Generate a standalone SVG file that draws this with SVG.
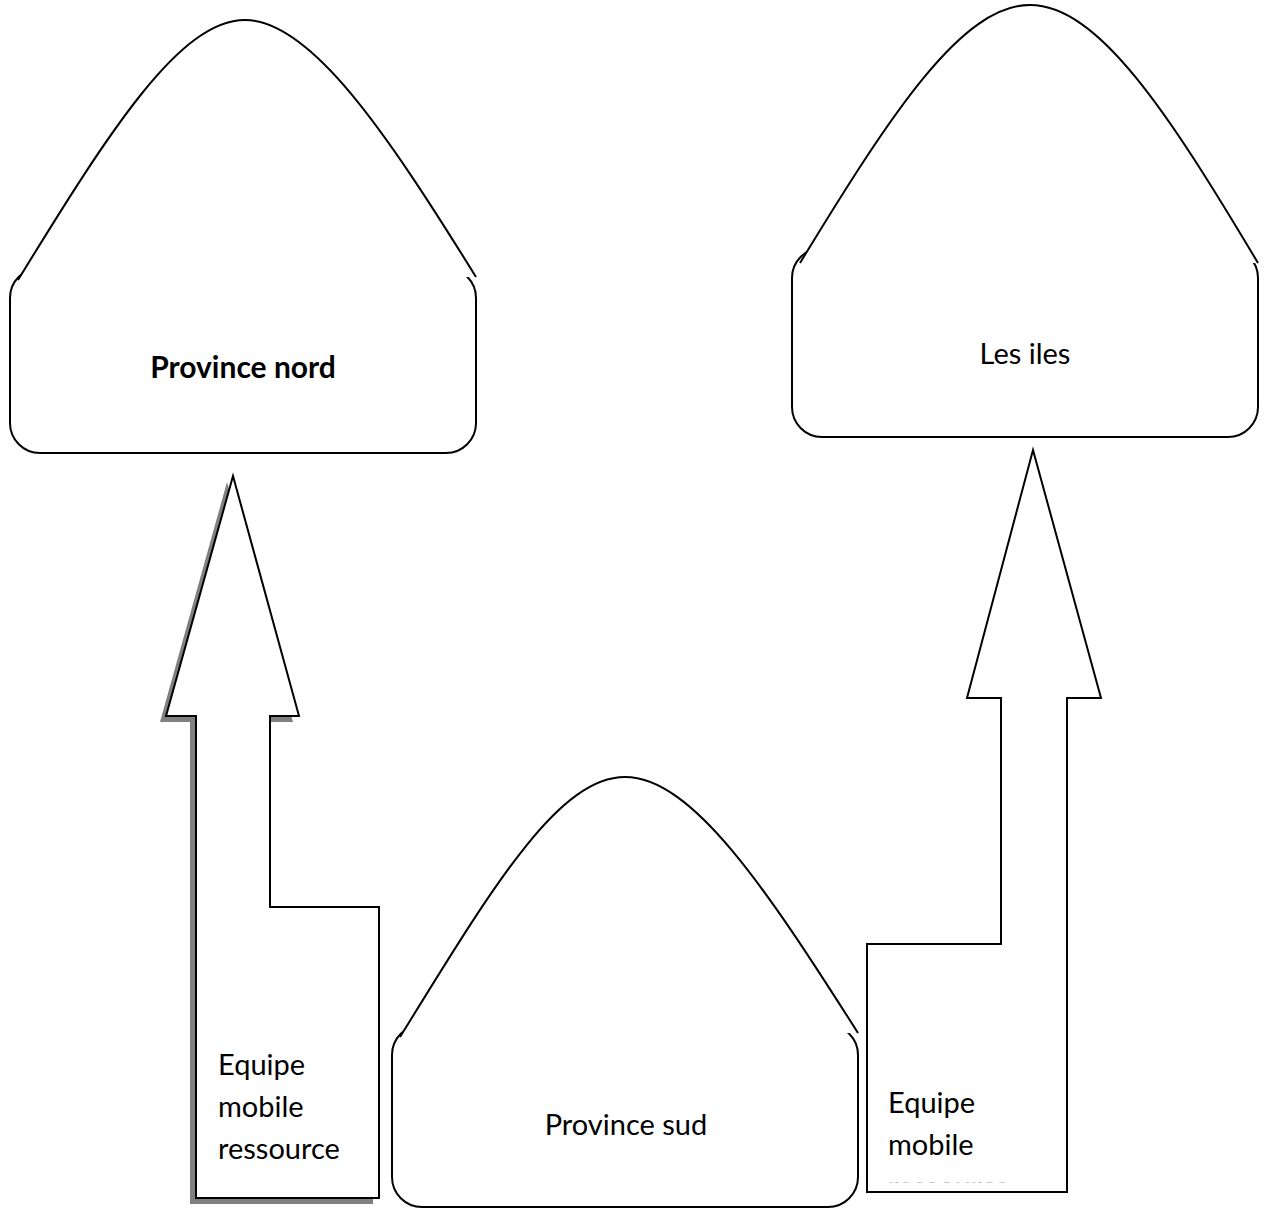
<svg xmlns="http://www.w3.org/2000/svg" width="1268" height="1209" viewBox="0 0 1268 1209">
  <defs>
    <style>
      .body { fill: #ffffff; stroke: #000000; stroke-width: 2; }
      .dome { fill: #ffffff; stroke: #000000; stroke-width: 2; }
      .arrow { fill: #ffffff; stroke: #000000; stroke-width: 2; stroke-linejoin: miter; }
      .shadow { fill: #808080; stroke: none; }
      .label { font-family: Lato, "Liberation Sans", sans-serif; font-size: 29px; fill: #000000; }
      .bold { font-weight: bold; font-size: 30px; }
    </style>
    <clipPath id="clip-arrow-text">
      <rect x="867" y="1050" width="200" height="132.3"/>
    </clipPath>
  </defs>

  <rect x="0" y="0" width="1268" height="1209" fill="#ffffff"/>

  <!-- Province nord: rounded body with a bell-shaped dome on top -->
  <g id="province-nord">
    <rect class="body" x="10" y="268" width="466" height="185" rx="30" ry="30"/>
    <path class="dome" d="M18,280 C110,130 180,20 245,20 C310,20 385,130 476,277"/>
    <text class="label bold" x="243" y="378" text-anchor="middle">Province nord</text>
  </g>

  <!-- Les iles -->
  <g id="les-iles">
    <rect class="body" x="792" y="248" width="466" height="189" rx="30" ry="30"/>
    <path class="dome" d="M800,263 C892,112 962,5 1030,5 C1098,5 1168,112 1258,263"/>
    <text class="label" x="1025" y="364" text-anchor="middle">Les iles</text>
  </g>

  <!-- Province sud -->
  <g id="province-sud">
    <rect class="body" x="392" y="1025" width="466" height="182" rx="30" ry="30"/>
    <path class="dome" d="M400,1037 C492,888 558,777 625,777 C692,777 766,888 858,1033"/>
    <text class="label" x="626" y="1135" text-anchor="middle">Province sud</text>
  </g>

  <!-- Block arrows carrying the mobile teams -->
  <g id="connectors">
    <g id="arrow-nord">
      <polygon class="shadow" points="227,482 293,722 264,722 264,913 373,913 373,1204 190,1204 190,722 160,722"/>
      <polygon class="arrow" points="233,476 299,716 270,716 270,907 379,907 379,1198 196,1198 196,716 166,716"/>
      <text class="label" x="218" y="1075">Equipe</text>
      <text class="label" x="218" y="1117">mobile</text>
      <text class="label" x="218" y="1159">ressource</text>
    </g>
    <g id="arrow-iles">
      <polygon class="arrow" points="1033,450 1101,698 1067,698 1067,1192 867,1192 867,944 1001,944 1001,698 967,698"/>
      <!-- third line runs past the bottom of the text box and is cut off -->
      <g clip-path="url(#clip-arrow-text)">
        <text class="label" x="888" y="1113">Equipe</text>
        <text class="label" x="888" y="1155">mobile</text>
        <text class="label" x="888" y="1197">ressource</text>
      </g>
    </g>
  </g>
</svg>
